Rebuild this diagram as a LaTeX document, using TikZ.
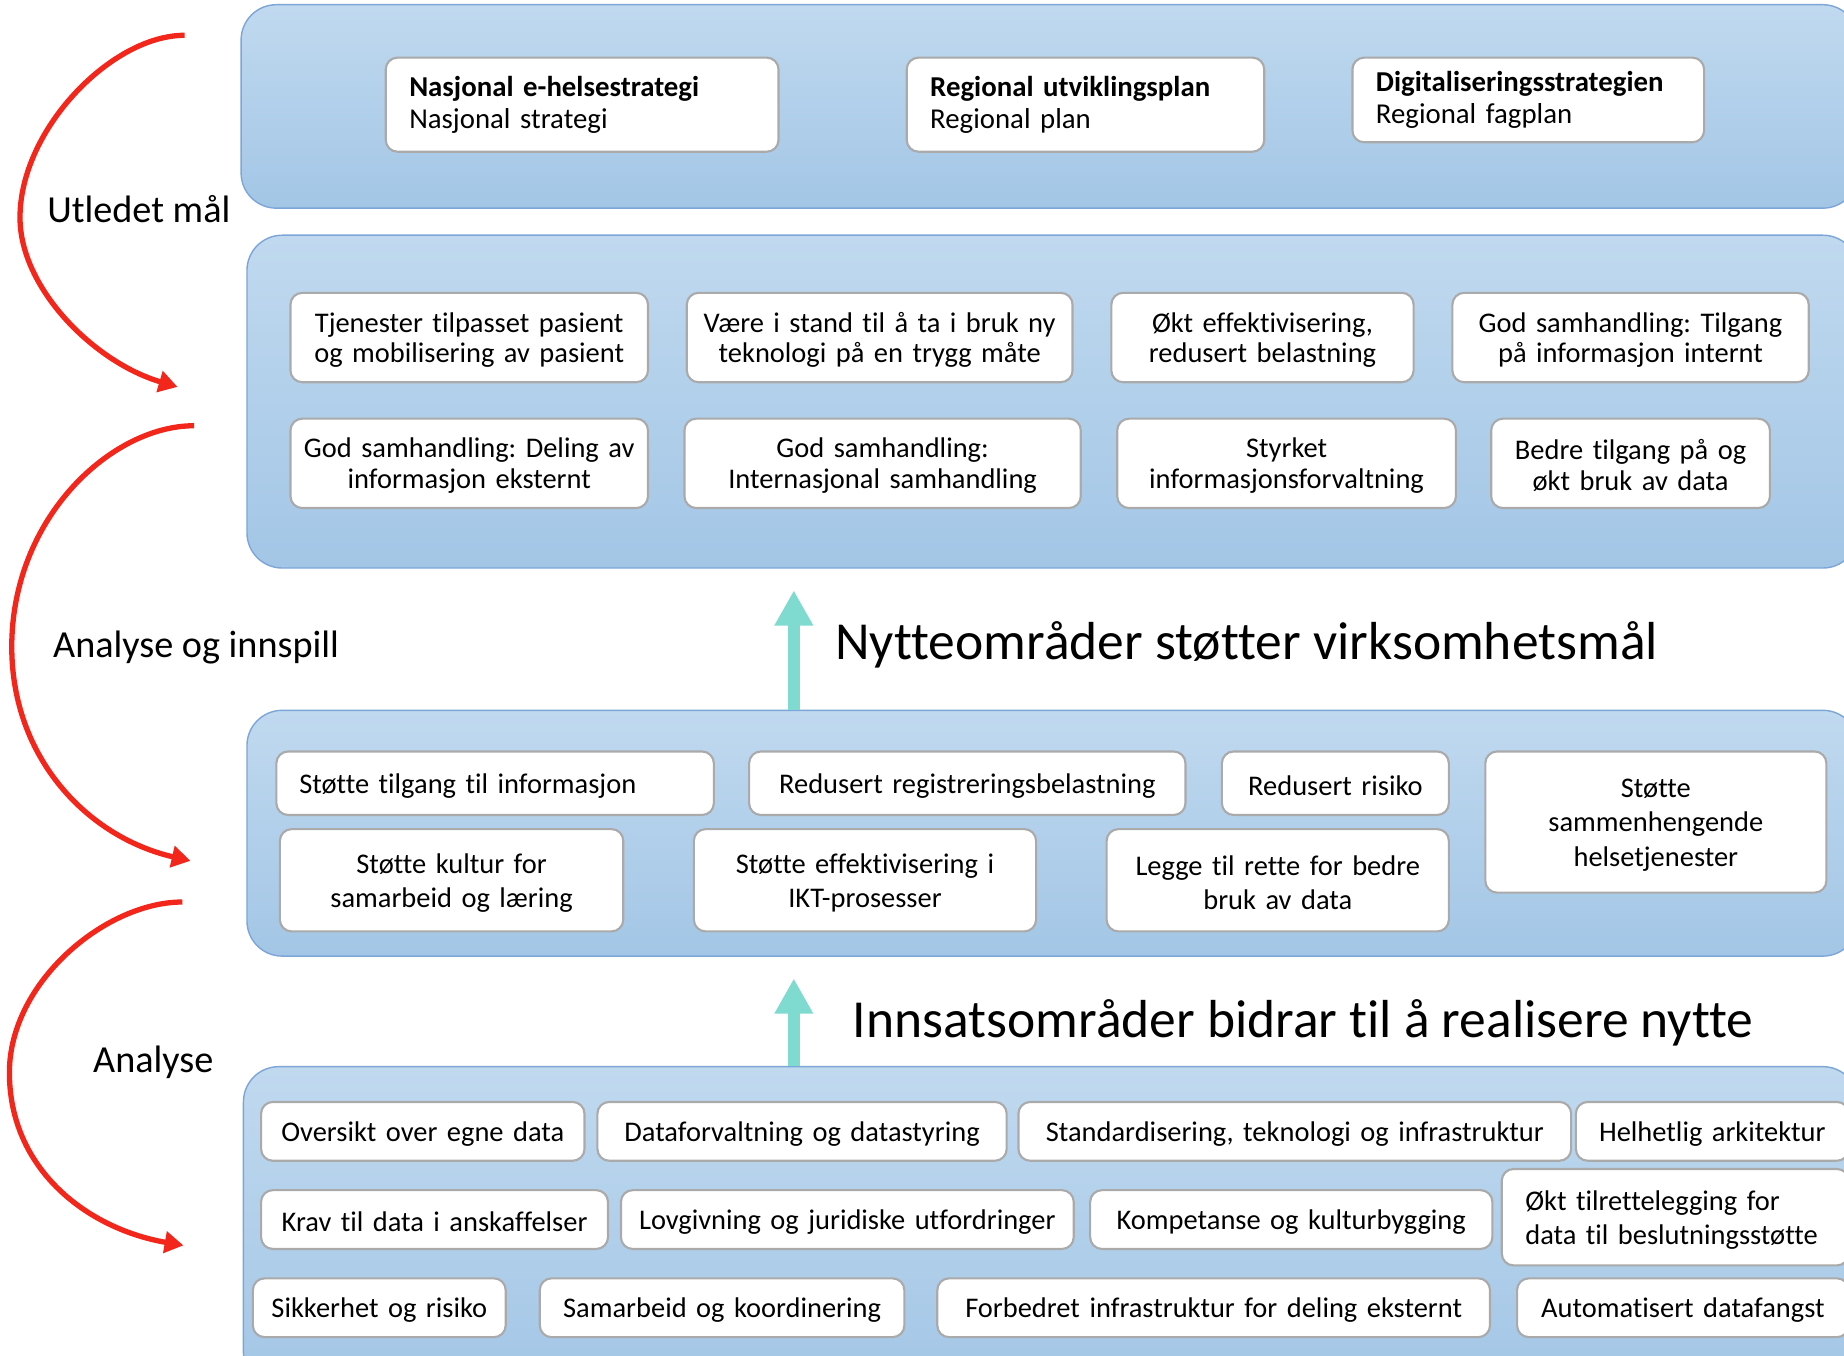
\documentclass[tikz,border=0pt]{standalone}
\usepackage{fontspec}
\setmainfont{Carlito}[Ligatures=NoCommon]
\usetikzlibrary{arrows.meta}
\definecolor{pantop}{RGB}{192,217,239}
\definecolor{panbot}{RGB}{163,198,230}
\definecolor{panline}{RGB}{125,166,216}
\definecolor{boxline}{RGB}{170,170,170}
\definecolor{redarr}{RGB}{242,38,26}
\definecolor{tealarr}{RGB}{127,218,208}
\newcommand\mkbox[7][]{\node[bx,text height=21pt,text width=#5pt,minimum height=#6pt,#1] (#2) at (#3,#4) {#7};}
\frenchspacing
\begin{document}
\begin{tikzpicture}[x=1pt,y=-1pt,
  panel/.style={draw=panline, line width=1.2pt, top color=pantop, bottom color=panbot, rounded corners=30pt, inner sep=0pt},
  bx/.style={rectangle, draw=boxline, line width=1.8pt, fill=white, rounded corners=10pt, inner xsep=0pt, inner ysep=0pt, align=center, font=\fontsize{24.2pt}{26pt}\selectfont},
  lft/.style={align=left, inner xsep=20pt},
  topbx/.style={bx, lft, font=\fontsize{24.5pt}{27pt}\selectfont},
  wide/.style={font=\fontsize{24.2pt}{29pt}\selectfont},
  redarrow/.style={draw=redarr, line width=4.5pt, -{Triangle[length=16pt,width=18pt]}},
  tealarrow/.style={draw=tealarr, line width=10.5pt, -{Triangle[length=30pt,width=31pt]}},
  side/.style={anchor=west, inner sep=0pt, font=\fontsize{32.5pt}{36pt}\selectfont},
  head/.style={anchor=west, inner sep=0pt, font=\fontsize{45.5pt}{50pt}\selectfont}]
\useasboundingbox (0,0) rectangle (1568,1153);
\fill[white] (0,0) rectangle (1568,1153);
% panels
\node[panel, minimum width=1375pt, minimum height=173pt] (p1) at (892.5,90.5) {};
\node[panel, minimum width=1370pt, minimum height=283pt] (p2) at (895,341.5) {};
\node[panel, minimum width=1370pt, minimum height=209pt] (p3) at (895,708.5) {};
\node[panel, minimum width=1373pt, minimum height=273pt] (p4) at (893.5,1043.5) {};
% top boxes
\node[topbx, text width=294pt, minimum height=80pt] (nas) at (495,89) {\textbf{Nasjonal e-helsestrategi}\\Nasjonal strategi};
\node[topbx, text width=264pt, minimum height=80pt] (reg) at (923,89) {\textbf{Regional utviklingsplan}\\Regional plan};
\node[topbx, text width=259pt, minimum height=72pt] (dig) at (1299.5,85) {\textbf{Digitaliseringsstrategien}\\Regional fagplan};
% goals
\mkbox{tj}{399}{287}{304}{76}{Tjenester tilpasset pasient\\og mobilisering av pasient}
\mkbox{vaere}{748}{287}{328}{76}{Være i stand til å ta i bruk ny\\teknologi på en trygg måte}
\mkbox{okt}{1073.5}{287}{257}{76}{Økt effektivisering,\\redusert belastning}
\mkbox{godt}{1386.5}{287}{303}{76}{God samhandling: Tilgang\\på informasjon internt}
\mkbox{godd}{399}{394}{304}{76}{God samhandling: Deling av\\informasjon eksternt}
\mkbox{godi}{750.5}{394}{337}{76}{God samhandling:\\Internasjonal samhandling}
\mkbox{styrk}{1094}{394}{288}{76}{Styrket\\informasjonsforvaltning}
\mkbox{bedre}{1386.5}{394}{237}{76}{Bedre tilgang på og\\økt bruk av data}
% benefits
\mkbox[lft,text width=333pt,inner xsep=19.5pt]{stil}{421}{666}{372}{54}{Støtte tilgang til informasjon}
\mkbox{redreg}{822.5}{666}{371}{54}{Redusert registreringsbelastning}
\mkbox{redris}{1135.5}{666}{193}{54}{Redusert risiko}
\mkbox[font=\fontsize{24.2pt}{29.5pt}\selectfont]{samm}{1408}{699}{290}{120}{Støtte\\sammenhengende\\helsetjenester}
\mkbox[wide]{kult}{384}{748.5}{292}{87}{Støtte kultur for\\samarbeid og læring}
\mkbox[wide]{effikt}{735.5}{748.5}{291}{87}{Støtte effektivisering i\\IKT-prosesser}
\mkbox[wide]{legge}{1086.5}{748.5}{291}{87}{Legge til rette for bedre\\bruk av data}
% efforts
\mkbox{ovr}{359.5}{962}{275}{50}{Oversikt over egne data}
\mkbox{dataf}{682}{962}{348}{50}{Dataforvaltning og datastyring}
\mkbox{stand}{1101}{962}{470}{50}{Standardisering, teknologi og infrastruktur}
\mkbox{helh}{1456}{962}{232}{50}{Helhetlig arkitektur}
\mkbox{krav}{369.5}{1037}{295}{50}{Krav til data i anskaffelser}
\mkbox{lov}{720.5}{1037}{385}{50}{Lovgivning og juridiske utfordringer}
\mkbox{komp}{1098}{1037}{342}{50}{Kompetanse og kulturbygging}
\mkbox[lft,text width=255pt,wide]{okttil}{1424.5}{1035}{295}{82}{Økt tilrettelegging for\\data til beslutningsstøtte}
\mkbox{sikk}{322.5}{1112}{215}{50}{Sikkerhet og risiko}
\mkbox{samk}{614}{1112}{310}{50}{Samarbeid og koordinering}
\mkbox{forb}{1032}{1112}{470}{50}{Forbedret infrastruktur for deling eksternt}
\mkbox{auto}{1431}{1112}{282}{50}{Automatisert datafangst}
% teal arrows and headings
\coordinate (t1) at (675,502);
\coordinate (t2) at (675,832);
\draw[tealarrow] (p3.north -| t1) -- (t1);
\draw[tealarrow] (p4.north -| t2) -- (t2);
\node[head] (h1) at (710,548) {Nytteområder støtter virksomhetsmål};
\node[head] (h2) at (725,870) {Innsatsområder bidrar til å realisere nytte};
% side labels
\node[side] (l1) at (40,178) {Utledet mål};
\node[side] (l2) at (45,551) {Analyse og innspill};
\node[side] (l3) at (79,903) {Analyse};
% red arrows
\coordinate (a1s) at (157,30);
\coordinate (a1m) at (17,185);
\coordinate (a1e) at (151,329);
\draw[redarrow] (a1s) .. controls (95,30) and (17,110) .. (a1m) .. controls (17,245) and (80,308) .. (a1e);
\coordinate (a2s) at (165,362);
\coordinate (a2m) at (10,550);
\coordinate (a2e) at (162,732);
\draw[redarrow] (a2s) .. controls (95,362) and (10,440) .. (a2m) .. controls (10,645) and (75,712) .. (a2e);
\coordinate (a3s) at (155,767);
\coordinate (a3m) at (8,912);
\coordinate (a3e) at (156,1059);
\draw[redarrow] (a3s) .. controls (90,767) and (8,835) .. (a3m) .. controls (8,995) and (75,1045) .. (a3e);
\end{tikzpicture}
\end{document}
